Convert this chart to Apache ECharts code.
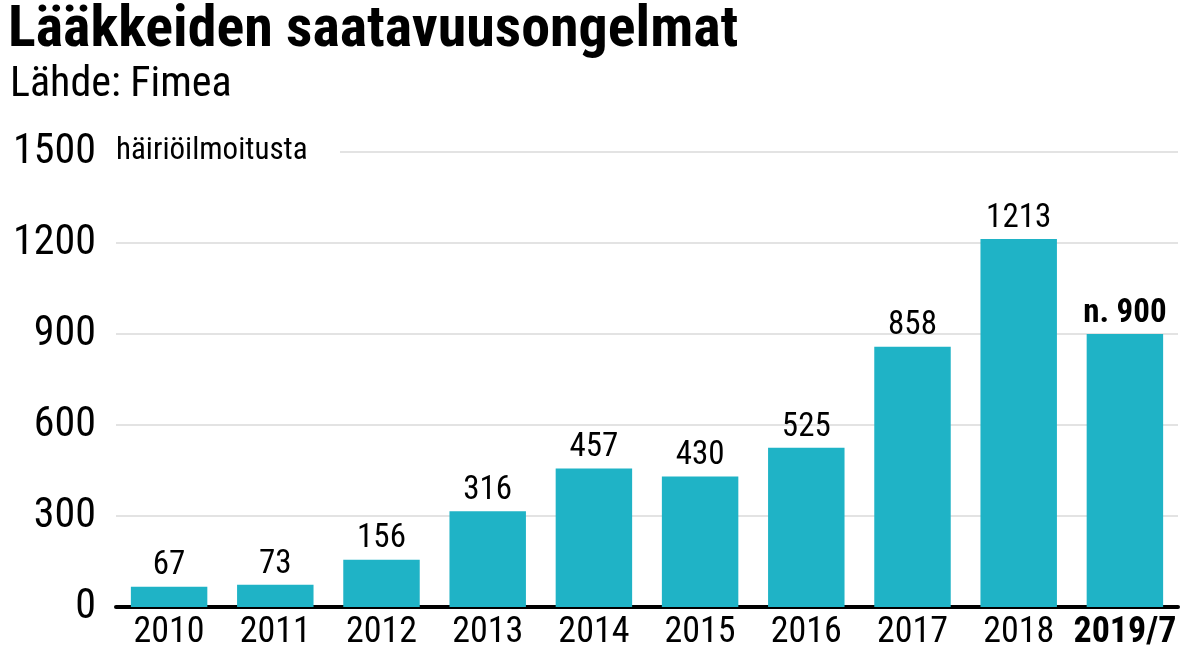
<!DOCTYPE html>
<html><head><meta charset="utf-8">
<script src="https://cdn.jsdelivr.net/npm/echarts@6/dist/echarts.min.js"></script>
<style>html,body{margin:0;background:#fff}#c{width:1199px;height:657px}</style>
</head><body><div id="c"></div>
<script>
const categories=['2010','2011','2012','2013','2014','2015','2016','2017','2018','2019/7'];
const values=[67,73,156,316,457,430,525,858,1213,900];
const valueLabels=['67','73','156','316','457','430','525','858','1213','n. 900'];
const yTicks=[0,300,600,900,1200,1500];
const chart=echarts.init(document.getElementById('c'));
const F='Roboto Condensed, Roboto, sans-serif';
chart.setOption({
  animation:false,
  grid:{left:116,right:21,top:152,bottom:50},
  graphic:[
    {type:'text',left:8,top:2,style:{text:'Lääkkeiden saatavuusongelmat',font:'bold 58px '+F,fill:'#000'}},
    {type:'text',left:10,top:64,style:{text:'Lähde: Fimea',font:'42px '+F,fill:'#000'}},
    {type:'rect',shape:{x:105,y:132,width:235,height:38},style:{fill:'#fff'},z:10},
    {type:'text',left:116,top:136,style:{text:'häiriöilmoitusta',font:'31px '+F,fill:'#000'},z:11}
  ],
  xAxis:{type:'category',data:categories,
    axisLine:{lineStyle:{color:'#000',width:4}},axisTick:{show:false},
    axisLabel:{interval:0,fontFamily:F,fontSize:36,color:'#000',margin:8,
      formatter:v=>v==='2019/7'?'{b|'+v+'}':v,rich:{b:{fontFamily:F,fontSize:36,fontWeight:'bold',color:'#000'}}}},
  yAxis:{type:'value',min:0,max:1500,interval:300,
    splitLine:{lineStyle:{color:'#e3e3e3',width:2}},
    axisLabel:{fontFamily:F,fontSize:42,color:'#000',margin:20,formatter:v=>String(v)}},
  series:[{type:'bar',data:values,barWidth:'72%',itemStyle:{color:'#1fb3c6'},
    label:{show:true,position:'top',distance:4,fontFamily:F,fontSize:33,color:'#000',
      formatter:p=>p.dataIndex===9?'{b|'+valueLabels[9]+'}':valueLabels[p.dataIndex],
      rich:{b:{fontFamily:F,fontSize:33,fontWeight:'bold',color:'#000'}}}}]
});
</script></body></html>
